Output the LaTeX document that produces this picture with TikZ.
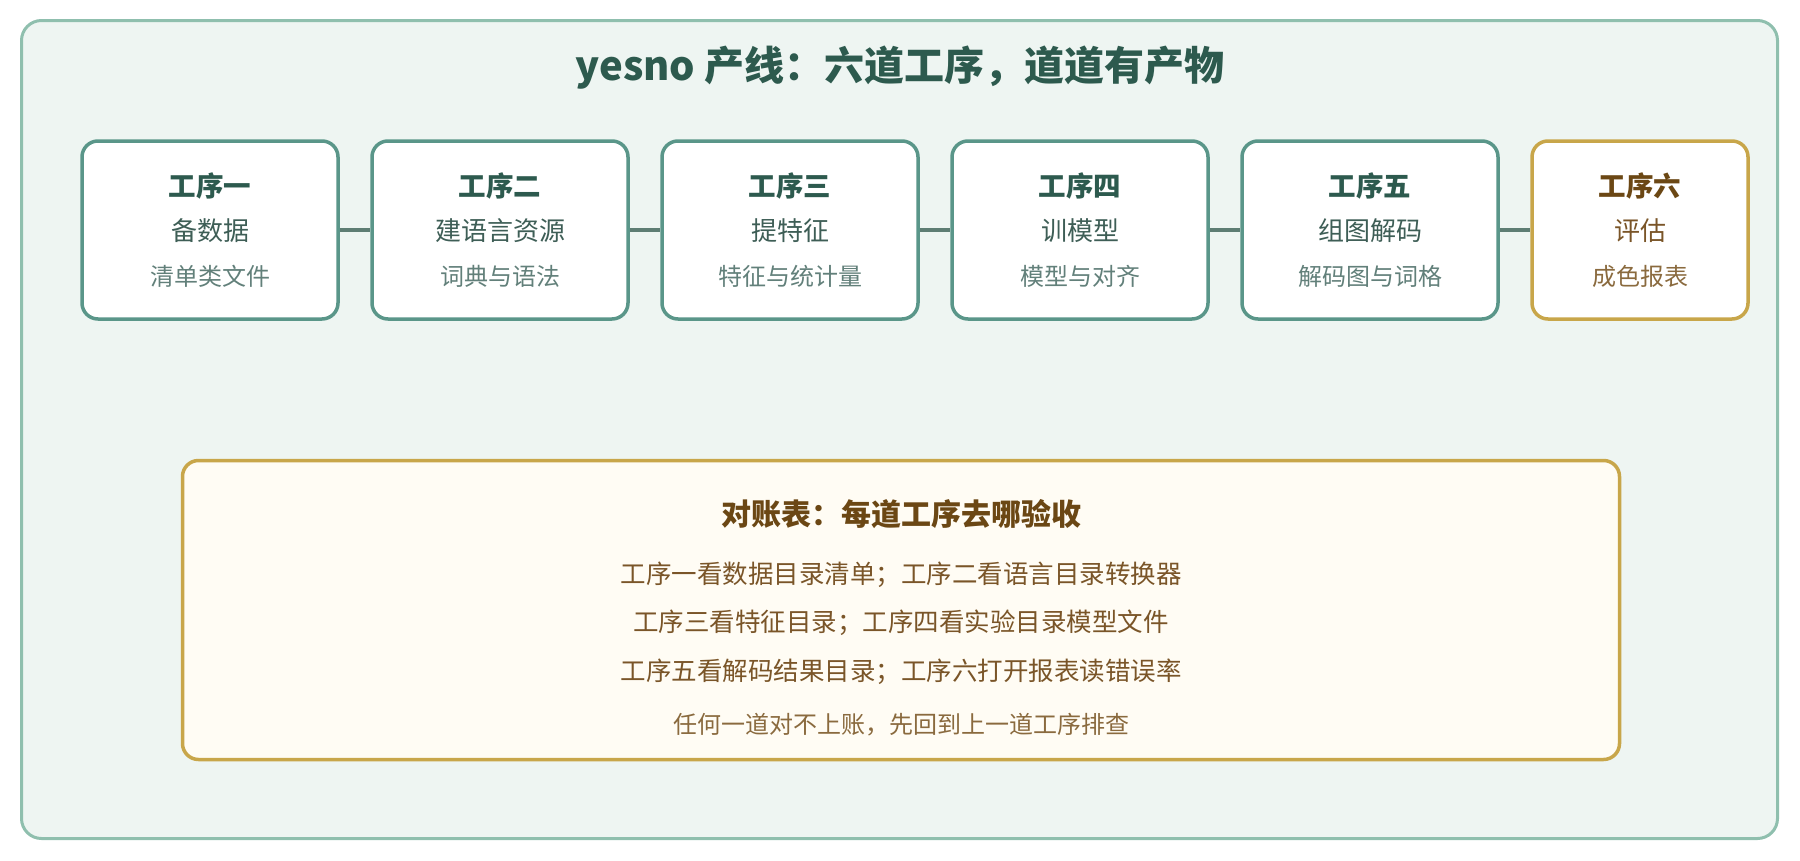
\documentclass[tikz,border=0pt]{standalone}
\usepackage{fontspec}
\setmainfont{Noto Sans CJK SC}
\definecolor{outerfill}{HTML}{EEF5F2}
\definecolor{outerline}{HTML}{8FBFAE}
\definecolor{boxline}{HTML}{5A9689}
\definecolor{linkcol}{HTML}{5E7D74}
\definecolor{titlecol}{HTML}{2D5A4E}
\definecolor{subcol}{HTML}{3E5E56}
\definecolor{notecol}{HTML}{62807A}
\definecolor{gold}{HTML}{C8A64A}
\definecolor{goldfill}{HTML}{FFFCF4}
\definecolor{browntitle}{HTML}{6B4714}
\definecolor{browntext}{HTML}{7A5528}
\definecolor{brownnote}{HTML}{8A6A3E}
\tikzset{
  stagebox/.style={draw=boxline, line width=3.5pt, fill=white, rounded corners=16pt,
    minimum width=256pt, minimum height=178pt, inner sep=0pt},
  goldbox/.style={stagebox, draw=gold, minimum width=216pt},
  stagetitle/.style={font=\fontsize{27.5}{30}\selectfont\bfseries, text=titlecol, inner sep=0pt},
  stagename/.style={font=\fontsize{26}{28}\selectfont, text=subcol, inner sep=0pt},
  stagenote/.style={font=\fontsize{24}{26}\selectfont, text=notecol, inner sep=0pt},
  link/.style={draw=linkcol, line width=4pt},
  checktext/.style={font=\fontsize{25.5}{28}\selectfont, text=browntext, inner sep=0pt},
}
\begin{document}
\begin{tikzpicture}[x=1pt,y=-1pt]
\useasboundingbox (0,0) rectangle (1800,860);
\node[draw=outerline, fill=outerfill, line width=3pt, rounded corners=20pt,
  minimum width=1756pt, minimum height=818pt, inner sep=0pt] (frame) at (899.5,429.5) {};
\node[font=\fontsize{40}{44}\selectfont\bfseries, text=titlecol, inner sep=0pt] (title) at (900,68) {yesno 产线：六道工序，道道有产物};

\node[stagebox] (b1) at (210,230) {};
\node[stagebox] (b2) at (500,230) {};
\node[stagebox] (b3) at (790,230) {};
\node[stagebox] (b4) at (1080,230) {};
\node[stagebox] (b5) at (1370,230) {};
\node[goldbox] (b6) at (1640,230) {};

\draw[link] (b1.east) -- (b2.west);
\draw[link] (b2.east) -- (b3.west);
\draw[link] (b3.east) -- (b4.west);
\draw[link] (b4.east) -- (b5.west);
\draw[link] (b5.east) -- (b6.west);

\node[stagetitle] (t1) at (210,186) {工序一};
\node[stagename] (n1) at (210,231) {备数据};
\node[stagenote] (m1) at (210,276) {清单类文件};
\node[stagetitle] (t2) at (500,186) {工序二};
\node[stagename] (n2) at (500,231) {建语言资源};
\node[stagenote] (m2) at (500,276) {词典与语法};
\node[stagetitle] (t3) at (790,186) {工序三};
\node[stagename] (n3) at (790,231) {提特征};
\node[stagenote] (m3) at (790,276) {特征与统计量};
\node[stagetitle] (t4) at (1080,186) {工序四};
\node[stagename] (n4) at (1080,231) {训模型};
\node[stagenote] (m4) at (1080,276) {模型与对齐};
\node[stagetitle] (t5) at (1370,186) {工序五};
\node[stagename] (n5) at (1370,231) {组图解码};
\node[stagenote] (m5) at (1370,276) {解码图与词格};
\node[stagetitle, text=browntitle] (t6) at (1640,186) {工序六};
\node[stagename, text=browntext] (n6) at (1640,231) {评估};
\node[stagenote, text=brownnote] (m6) at (1640,276) {成色报表};

\node[draw=gold, fill=goldfill, line width=3.5pt, rounded corners=16pt,
  minimum width=1437pt, minimum height=299pt, inner sep=0pt] (check) at (901,610) {};
\node[font=\fontsize{30}{34}\selectfont\bfseries, text=browntitle, inner sep=0pt] (ctitle) at (901,514) {对账表：每道工序去哪验收};
\node[checktext] (c1) at (901,575) {工序一看数据目录清单；工序二看语言目录转换器};
\node[checktext] (c2) at (901,623) {工序三看特征目录；工序四看实验目录模型文件};
\node[checktext] (c3) at (901,672) {工序五看解码结果目录；工序六打开报表读错误率};
\node[font=\fontsize{24}{26}\selectfont, text=brownnote, inner sep=0pt] (c4) at (901,725) {任何一道对不上账，先回到上一道工序排查};
\end{tikzpicture}
\end{document}
